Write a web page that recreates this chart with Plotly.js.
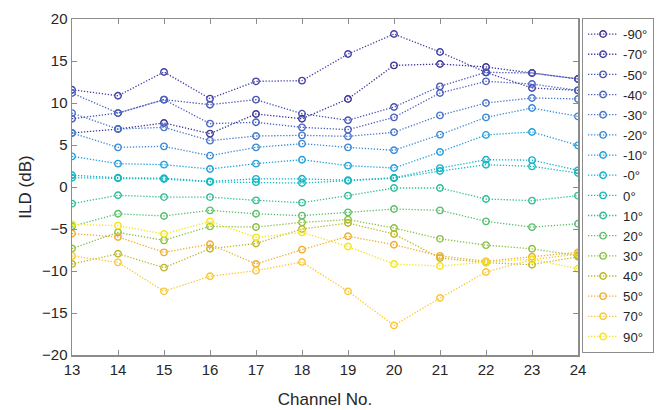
<!DOCTYPE html>
<html>
<head>
<meta charset="utf-8">
<script src="https://cdn.plot.ly/plotly-3.0.1.min.js"></script>
<style>html,body{margin:0;padding:0;background:#fff;}#chart{width:657px;height:410px;}</style>
</head>
<body>
<div id="chart"></div>
<script>
const channels = [13,14,15,16,17,18,19,20,21,22,23,24];
const seriesNames = ['-90°','-70°','-50°','-40°','-30°','-20°','-10°','-0°','0°','10°','20°','30°','40°','50°','70°','90°'];
const seriesColors = ['#3b3296','#4341a8','#4753b6','#4a62c0','#4876ca','#3a8ad8','#1fa1df','#13b1d3','#17b9ba','#2fbe98','#5bbf6a','#8cc043','#bdb82c','#f2ac2e','#fbc631','#f3e61a'];

const ild_m90 = [6.43, 6.9, 7.62, 6.35, 8.69, 8.13, 10.48, 14.48, 14.64, 14.29, 13.57, 12.86];
const ild_m70 = [11.58, 10.86, 13.69, 10.52, 12.58, 12.66, 15.83, 18.21, 16.07, 13.65, 11.79, 11.5];
const ild_m50 = [8.13, 8.8, 10.4, 9.8, 10.4, 8.73, 7.94, 9.52, 11.98, 13.65, 13.57, 12.86];
const ild_m40 = [11.19, 8.8, 10.4, 7.54, 7.7, 7.1, 6.83, 8.29, 11.19, 12.58, 12.26, 11.5];
const ild_m30 = [8.8, 6.9, 7.1, 5.52, 6.07, 6.15, 6.03, 6.51, 8.53, 10.0, 10.6, 10.48];
const ild_m20 = [6.43, 4.72, 4.84, 3.73, 4.72, 5.16, 4.72, 4.37, 6.23, 8.29, 9.4, 8.41];
const ild_m10 = [3.65, 2.78, 2.66, 2.14, 2.78, 3.25, 2.54, 2.26, 4.17, 6.2, 6.55, 4.96];
const ild_m0  = [1.4, 1.1, 1.05, 0.67, 0.97, 0.98, 0.8, 1.1, 2.25, 3.25, 3.2, 1.98];
const ild_0   = [1.1, 1.05, 0.95, 0.6, 0.58, 0.47, 0.75, 1.05, 1.9, 2.65, 2.46, 1.66];
const ild_10  = [-1.98, -0.99, -1.2, -1.2, -1.59, -1.86, -1.03, -0.12, -0.12, -1.43, -1.62, -1.03];
const ild_20  = [-4.68, -3.19, -3.45, -2.78, -3.19, -3.41, -3.02, -2.62, -2.78, -4.09, -4.78, -4.37];
const ild_30  = [-7.33, -5.4, -6.35, -4.69, -4.77, -4.21, -3.88, -4.88, -6.17, -6.92, -7.36, -8.17];
const ild_40  = [-9.17, -7.94, -9.6, -7.35, -6.72, -5.0, -4.29, -5.6, -8.45, -9.0, -9.25, -8.3];
const ild_50  = [-5.54, -5.95, -7.78, -6.81, -9.17, -7.46, -5.87, -6.87, -8.2, -8.85, -8.3, -7.78];
const ild_70  = [-8.2, -8.97, -12.42, -10.63, -9.96, -8.93, -12.42, -16.47, -13.22, -10.12, -8.65, -7.98];
const ild_90  = [-4.45, -4.6, -5.6, -4.1, -6.0, -5.4, -7.08, -9.17, -9.4, -8.95, -8.6, -9.74];

const allSeries = [ild_m90, ild_m70, ild_m50, ild_m40, ild_m30, ild_m20, ild_m10, ild_m0, ild_0, ild_10, ild_20, ild_30, ild_40, ild_50, ild_70, ild_90];
const yTicks = [-20,-15,-10,-5,0,5,10,15,20];
const xTicks = channels;

const traces = allSeries.map((vals, i) => ({
  x: channels,
  y: vals,
  name: seriesNames[i],
  type: 'scatter',
  mode: 'lines+markers',
  line: {color: seriesColors[i], width: 1.3, dash: '1.3px,1.7px'},
  marker: {symbol: 'circle-open', size: 6.5, color: seriesColors[i], line: {width: 1.4, color: seriesColors[i]}}
}));

const fontFam = 'Liberation Sans, Arial, Helvetica, sans-serif';
const axisCommon = {
  showline: true, linecolor: '#8c8c8c', linewidth: 1.5, mirror: 'ticks',
  ticks: 'inside', ticklen: 5, tickcolor: '#8c8c8c', tickwidth: 1,
  showgrid: false, zeroline: false,
  tickfont: {family: fontFam, size: 15, color: '#262626'}
};

const layout = {
  width: 657, height: 410,
  margin: {l: 72, r: 79, t: 19, b: 55, autoexpand: false},
  paper_bgcolor: '#fff', plot_bgcolor: '#fff',
  font: {family: fontFam, color: '#262626'},
  xaxis: Object.assign({}, axisCommon, {
    range: [13, 24], tickvals: xTicks,
    title: {text: 'Channel No.', font: {family: fontFam, size: 17, color: '#262626'}, standoff: 16}
  }),
  yaxis: Object.assign({}, axisCommon, {
    range: [-20, 20], tickvals: yTicks,
    title: {text: 'ILD (dB)', font: {family: fontFam, size: 17, color: '#262626'}, standoff: 6}
  }),
  showlegend: true,
  legend: {
    x: 1.008, xanchor: 'left', y: 1.003, yanchor: 'top',
    bordercolor: '#8c8c8c', borderwidth: 1, bgcolor: '#fff',
    font: {family: fontFam, size: 13.2, color: '#262626'},
    tracegroupgap: 0, itemwidth: 30, maxheight: 400
  }
};

Plotly.newPlot('chart', traces, layout, {displayModeBar: false, staticPlot: true});
</script>
</body>
</html>
